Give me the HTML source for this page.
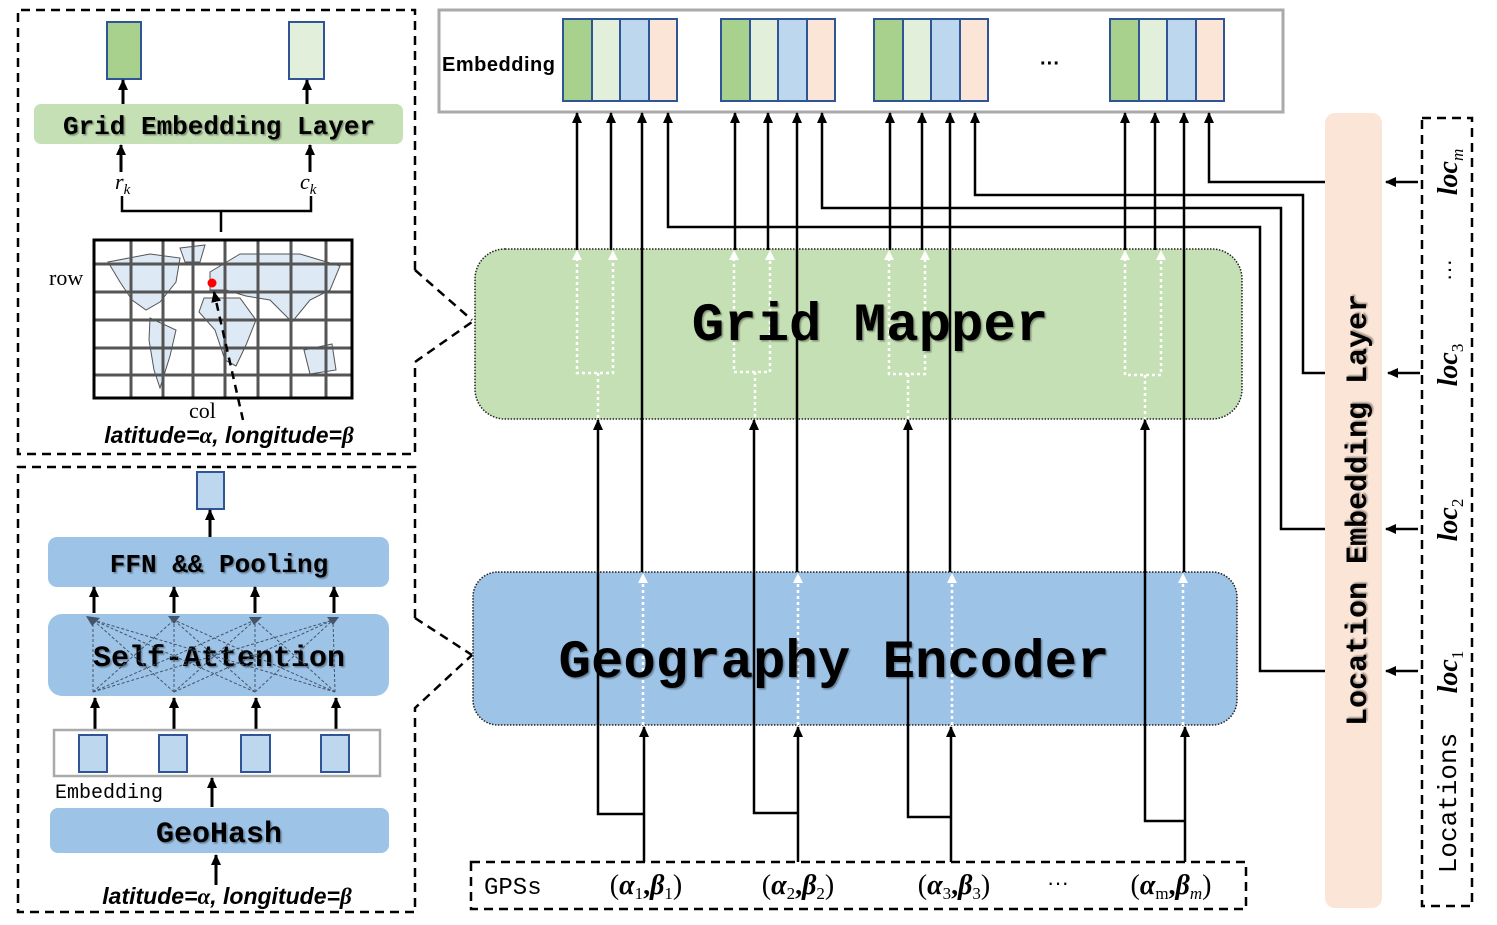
<!DOCTYPE html>
<html><head><meta charset="utf-8">
<style>
html,body{margin:0;padding:0;background:#fff;}
svg{display:block;}
.mono{font-family:"Liberation Mono","DejaVu Sans Mono",monospace;font-weight:bold;}
.serif{font-family:"Liberation Serif",serif;}
.sans{font-family:"Liberation Sans",sans-serif;}
</style></head>
<body>
<svg width="1497" height="925" viewBox="0 0 1497 925" xmlns="http://www.w3.org/2000/svg">
<defs>
<marker id="ah" markerWidth="11" markerHeight="10" refX="10" refY="5" orient="auto" markerUnits="userSpaceOnUse" viewBox="0 0 11 10">
<path d="M0,0 L11,5 L0,10 Z" fill="#000"/></marker>
<filter id="sh"><feDropShadow dx="1.5" dy="1.5" stdDeviation="0.8" flood-color="#000" flood-opacity="0.35"/></filter>
</defs>

<!-- ================= TOP LEFT PANEL ================= -->
<path d="M415,270 L415,10 L18,10 L18,454 L415,454 L415,362 L472,322" fill="none" stroke="#000" stroke-width="2.5" stroke-dasharray="9,6"/>
<path d="M415,270 L472,320" fill="none" stroke="#000" stroke-width="2.5" stroke-dasharray="9,6"/>
<rect x="107" y="22" width="34" height="57" fill="#a9d18e" stroke="#2f5597" stroke-width="2"/>
<rect x="289" y="22" width="35" height="57" fill="#e2efda" stroke="#2f5597" stroke-width="2"/>
<rect x="34" y="104" width="369" height="40" rx="7" fill="#c5e0b4"/>
<text x="219" y="134" class="mono" font-size="26" text-anchor="middle" filter="url(#sh)">Grid Embedding Layer</text>
<line x1="123" y1="104" x2="123" y2="80" stroke="#000" stroke-width="3" marker-end="url(#ah)"/>
<line x1="307" y1="104" x2="307" y2="80" stroke="#000" stroke-width="3" marker-end="url(#ah)"/>
<line x1="121" y1="172" x2="121" y2="145" stroke="#000" stroke-width="3" marker-end="url(#ah)"/>
<line x1="310" y1="172" x2="310" y2="145" stroke="#000" stroke-width="3" marker-end="url(#ah)"/>
<text x="115" y="189" class="serif" font-size="22" font-style="italic">r<tspan font-size="15" dy="5">k</tspan></text>
<text x="300" y="189" class="serif" font-size="22" font-style="italic">c<tspan font-size="15" dy="5">k</tspan></text>
<path d="M122,196 L122,211 L311,211 L311,196 M221,211 L221,232" fill="none" stroke="#000" stroke-width="2.5"/>
<!-- map -->
<rect x="94" y="240" width="258" height="158" fill="#fff"/>
<g fill="#dde9f5" stroke="#555" stroke-width="1">
<path d="M108,262 L150,254 L180,258 L176,282 L160,302 L146,310 L132,300 L120,282 Z"/>
<path d="M180,248 L205,245 L200,262 L185,262 Z"/>
<path d="M150,318 L176,330 L170,356 L160,388 L154,370 L149,340 Z"/>
<path d="M210,272 L240,254 L300,254 L340,266 L330,290 L310,300 L292,322 L270,300 L246,296 L226,290 L210,290 Z"/>
<path d="M204,298 L240,298 L256,320 L246,345 L236,366 L225,360 L215,330 L199,312 Z"/>
<path d="M304,350 L332,344 L336,370 L310,374 Z"/>
</g>
<g stroke="#555" stroke-width="3">
<line x1="131" y1="240" x2="131" y2="398"/><line x1="163" y1="240" x2="163" y2="398"/>
<line x1="193" y1="240" x2="193" y2="398"/><line x1="225" y1="240" x2="225" y2="398"/>
<line x1="258" y1="240" x2="258" y2="398"/><line x1="291" y1="240" x2="291" y2="398"/>
<line x1="326" y1="240" x2="326" y2="398"/>
<line x1="94" y1="264" x2="352" y2="264"/><line x1="94" y1="292" x2="352" y2="292"/>
<line x1="94" y1="320" x2="352" y2="320"/><line x1="94" y1="348" x2="352" y2="348"/>
<line x1="94" y1="375" x2="352" y2="375"/>
</g>
<rect x="94" y="240" width="258" height="158" fill="none" stroke="#000" stroke-width="3"/>
<circle cx="212" cy="283" r="4.5" fill="#f00"/>
<line x1="243" y1="420" x2="214" y2="292" stroke="#000" stroke-width="2.5" stroke-dasharray="8,6" marker-end="url(#ah)"/>
<text x="49" y="285" class="serif" font-size="22">row</text>
<text x="189" y="418" class="serif" font-size="22">col</text>
<text x="229" y="443" class="sans" font-size="23" font-weight="bold" font-style="italic" text-anchor="middle">latitude=<tspan class="serif">α</tspan>, longitude=<tspan class="serif">β</tspan></text>

<!-- ================= BOTTOM LEFT PANEL ================= -->
<path d="M415,618 L415,467 L18,467 L18,912 L415,912 L415,708 L472,655" fill="none" stroke="#000" stroke-width="2.5" stroke-dasharray="9,6"/>
<path d="M415,618 L472,655" fill="none" stroke="#000" stroke-width="2.5" stroke-dasharray="9,6"/>
<rect x="197" y="472" width="27" height="37" fill="#bdd7ee" stroke="#2f5597" stroke-width="2"/>
<line x1="210" y1="537" x2="210" y2="510" stroke="#000" stroke-width="3" marker-end="url(#ah)"/>
<rect x="48" y="537" width="341" height="50" rx="9" fill="#9dc3e6"/>
<text x="219" y="572" class="mono" font-size="26" text-anchor="middle" filter="url(#sh)">FFN &amp;&amp; Pooling</text>
<rect x="48" y="614" width="341" height="82" rx="14" fill="#9dc3e6"/>
<text x="219" y="666" class="mono" font-size="30" text-anchor="middle" filter="url(#sh)">Self-Attention</text>
<g stroke="#44546a" stroke-width="1" stroke-dasharray="3,2" fill="none">
<path d="M93,692 L93,620 M93,692 L174,620 M93,692 L255,620 M93,692 L333,620"/>
<path d="M174,692 L93,620 M174,692 L174,620 M174,692 L255,620 M174,692 L333,620"/>
<path d="M255,692 L93,620 M255,692 L174,620 M255,692 L255,620 M255,692 L333,620"/>
<path d="M335,692 L93,620 M335,692 L174,620 M335,692 L255,620 M335,692 L333,620"/>
</g>
<g fill="#44546a"><path d="M86,616 L100,618 L92,626Z"/><path d="M168,616 L180,616 L174,624Z"/><path d="M249,617 L262,617 L254,625Z"/><path d="M327,617 L339,617 L333,625Z"/></g>
<g stroke="#000" stroke-width="3">
<line x1="94" y1="613" x2="94" y2="587" marker-end="url(#ah)"/>
<line x1="174" y1="613" x2="174" y2="587" marker-end="url(#ah)"/>
<line x1="255" y1="613" x2="255" y2="587" marker-end="url(#ah)"/>
<line x1="334" y1="613" x2="334" y2="587" marker-end="url(#ah)"/>
<line x1="95" y1="729" x2="95" y2="698" marker-end="url(#ah)"/>
<line x1="174" y1="729" x2="174" y2="698" marker-end="url(#ah)"/>
<line x1="256" y1="729" x2="256" y2="698" marker-end="url(#ah)"/>
<line x1="336" y1="729" x2="336" y2="698" marker-end="url(#ah)"/>
<line x1="212" y1="807" x2="212" y2="778" marker-end="url(#ah)"/>
<line x1="216" y1="885" x2="216" y2="855" marker-end="url(#ah)"/>
</g>
<rect x="54" y="730" width="326" height="46" fill="#fff" stroke="#aaa" stroke-width="2.5"/>
<g fill="#bdd7ee" stroke="#2f5597" stroke-width="2">
<rect x="79" y="735" width="28" height="37"/><rect x="159" y="735" width="28" height="37"/>
<rect x="241" y="735" width="29" height="37"/><rect x="321" y="735" width="28" height="37"/>
</g>
<text x="55" y="798" class="mono" font-size="20" style="font-weight:normal">Embedding</text>
<rect x="50" y="808" width="339" height="45" rx="8" fill="#9dc3e6"/>
<text x="219" y="842" class="mono" font-size="30" text-anchor="middle" filter="url(#sh)">GeoHash</text>
<text x="227" y="904" class="sans" font-size="23" font-weight="bold" font-style="italic" text-anchor="middle">latitude=<tspan class="serif">α</tspan>, longitude=<tspan class="serif">β</tspan></text>

<!-- ================= TOP EMBEDDING ================= -->
<rect x="439" y="10" width="844" height="102" fill="#fff" stroke="#aaa" stroke-width="3"/>
<text x="442" y="71" class="sans" font-size="20" font-weight="bold" textLength="113">Embedding</text>
<g stroke="#2f5597" stroke-width="2">
<g transform="translate(563,19)"><rect width="29" height="82" fill="#a9d18e"/><rect x="29" width="28" height="82" fill="#e2efda"/><rect x="57" width="29" height="82" fill="#bdd7ee"/><rect x="86" width="28" height="82" fill="#fbe5d6"/></g>
<g transform="translate(721,19)"><rect width="29" height="82" fill="#a9d18e"/><rect x="29" width="28" height="82" fill="#e2efda"/><rect x="57" width="29" height="82" fill="#bdd7ee"/><rect x="86" width="28" height="82" fill="#fbe5d6"/></g>
<g transform="translate(874,19)"><rect width="29" height="82" fill="#a9d18e"/><rect x="29" width="28" height="82" fill="#e2efda"/><rect x="57" width="29" height="82" fill="#bdd7ee"/><rect x="86" width="28" height="82" fill="#fbe5d6"/></g>
<g transform="translate(1110,19)"><rect width="29" height="82" fill="#a9d18e"/><rect x="29" width="28" height="82" fill="#e2efda"/><rect x="57" width="29" height="82" fill="#bdd7ee"/><rect x="86" width="28" height="82" fill="#fbe5d6"/></g>
</g>
<text x="1050" y="70" class="sans" font-size="20" font-weight="bold" text-anchor="middle">···</text>

<!-- ================= GRID MAPPER ================= -->
<rect x="475" y="249" width="767" height="170" rx="30" fill="#c5e0b4" stroke="#222" stroke-width="1.5" stroke-dasharray="1.5,1.5"/>
<g stroke="#fff" stroke-width="2.5" stroke-dasharray="3,3" fill="none">
<path d="M577,258 L577,373 L613,373 L613,258 M598,373 L598,419"/>
<path d="M734,258 L734,372 L770,372 L770,258 M755,372 L755,419"/>
<path d="M889,258 L889,374 L925,374 L925,258 M908,374 L908,419"/>
<path d="M1125,258 L1125,375 L1161,375 L1161,258 M1145,375 L1145,419"/>
</g>
<g fill="#fff">
<path d="M572,260 L577,250 L582,260Z"/><path d="M608,260 L613,250 L618,260Z"/>
<path d="M729,260 L734,250 L739,260Z"/><path d="M765,260 L770,250 L775,260Z"/>
<path d="M884,260 L889,250 L894,260Z"/><path d="M920,260 L925,250 L930,260Z"/>
<path d="M1120,260 L1125,250 L1130,260Z"/><path d="M1156,260 L1161,250 L1166,260Z"/>
</g>
<text x="870" y="340" class="mono" font-size="54" text-anchor="middle" filter="url(#sh)">Grid Mapper</text>

<!-- ================= GEOGRAPHY ENCODER ================= -->
<rect x="473" y="572" width="764" height="153" rx="25" fill="#9dc3e6" stroke="#222" stroke-width="1.5" stroke-dasharray="1.5,1.5"/>
<g stroke="#fff" stroke-width="2.5" stroke-dasharray="3,3">
<line x1="643" y1="725" x2="643" y2="582"/><line x1="798" y1="725" x2="798" y2="582"/>
<line x1="952" y1="725" x2="952" y2="582"/><line x1="1183" y1="725" x2="1183" y2="582"/>
</g>
<g fill="#fff">
<path d="M638,583 L643,573 L648,583Z"/><path d="M793,583 L798,573 L803,583Z"/>
<path d="M947,583 L952,573 L957,583Z"/><path d="M1178,583 L1183,573 L1188,583Z"/>
</g>
<text x="834" y="677" class="mono" font-size="54" text-anchor="middle" filter="url(#sh)">Geography Encoder</text>

<!-- ================= CONNECTORS ================= -->
<g stroke="#000" stroke-width="2.5" fill="none">
<line x1="577" y1="250" x2="577" y2="113" marker-end="url(#ah)"/>
<line x1="611" y1="250" x2="611" y2="113" marker-end="url(#ah)"/>
<line x1="735" y1="250" x2="735" y2="113" marker-end="url(#ah)"/>
<line x1="768" y1="250" x2="768" y2="113" marker-end="url(#ah)"/>
<line x1="890" y1="250" x2="890" y2="113" marker-end="url(#ah)"/>
<line x1="922" y1="250" x2="922" y2="113" marker-end="url(#ah)"/>
<line x1="1125" y1="250" x2="1125" y2="113" marker-end="url(#ah)"/>
<line x1="1155" y1="250" x2="1155" y2="113" marker-end="url(#ah)"/>
<line x1="642" y1="572" x2="642" y2="113" marker-end="url(#ah)"/>
<line x1="797" y1="572" x2="797" y2="113" marker-end="url(#ah)"/>
<line x1="950" y1="572" x2="950" y2="113" marker-end="url(#ah)"/>
<line x1="1184" y1="572" x2="1184" y2="113" marker-end="url(#ah)"/>
<path d="M1325,182 L1209,182 L1209,113" marker-end="url(#ah)"/>
<path d="M1325,373 L1303,373 L1303,195 L975,195 L975,113" marker-end="url(#ah)"/>
<path d="M1325,529 L1281,529 L1281,208 L822,208 L822,113" marker-end="url(#ah)"/>
<path d="M1325,671 L1260,671 L1260,227 L668,227 L668,113" marker-end="url(#ah)"/>
<line x1="644" y1="862" x2="644" y2="727" marker-end="url(#ah)"/>
<line x1="798" y1="862" x2="798" y2="727" marker-end="url(#ah)"/>
<line x1="951" y1="862" x2="951" y2="727" marker-end="url(#ah)"/>
<line x1="1185" y1="862" x2="1185" y2="727" marker-end="url(#ah)"/>
<path d="M644,814 L598,814 L598,420" marker-end="url(#ah)"/>
<path d="M798,813 L754,813 L754,420" marker-end="url(#ah)"/>
<path d="M951,817 L908,817 L908,420" marker-end="url(#ah)"/>
<path d="M1185,821 L1145,821 L1145,420" marker-end="url(#ah)"/>
<line x1="1418" y1="182" x2="1386" y2="182" marker-end="url(#ah)"/>
<line x1="1420" y1="373" x2="1388" y2="373" marker-end="url(#ah)"/>
<line x1="1418" y1="529" x2="1386" y2="529" marker-end="url(#ah)"/>
<line x1="1418" y1="671" x2="1386" y2="671" marker-end="url(#ah)"/>
</g>

<!-- ================= GPS BOX ================= -->
<rect x="471" y="862" width="775" height="47" fill="none" stroke="#000" stroke-width="2.5" stroke-dasharray="9,6"/>
<text x="484" y="894" class="mono" font-size="24" style="font-weight:normal">GPSs</text>
<g class="serif" font-size="28" font-weight="bold" font-style="italic" text-anchor="middle">
<text x="646" y="894"><tspan font-style="normal" font-weight="normal">(</tspan>α<tspan font-size="17" font-style="normal" font-weight="normal" dy="5">1</tspan><tspan dy="-5" font-style="normal">,</tspan>β<tspan font-size="17" font-style="normal" font-weight="normal" dy="5">1</tspan><tspan dy="-5" font-style="normal" font-weight="normal">)</tspan></text>
<text x="798" y="894"><tspan font-style="normal" font-weight="normal">(</tspan>α<tspan font-size="17" font-style="normal" font-weight="normal" dy="5">2</tspan><tspan dy="-5" font-style="normal">,</tspan>β<tspan font-size="17" font-style="normal" font-weight="normal" dy="5">2</tspan><tspan dy="-5" font-style="normal" font-weight="normal">)</tspan></text>
<text x="954" y="894"><tspan font-style="normal" font-weight="normal">(</tspan>α<tspan font-size="17" font-style="normal" font-weight="normal" dy="5">3</tspan><tspan dy="-5" font-style="normal">,</tspan>β<tspan font-size="17" font-style="normal" font-weight="normal" dy="5">3</tspan><tspan dy="-5" font-style="normal" font-weight="normal">)</tspan></text>
<text x="1171" y="894"><tspan font-style="normal" font-weight="normal">(</tspan>α<tspan font-size="17" font-style="normal" font-weight="normal" dy="5">m</tspan><tspan dy="-5" font-style="normal">,</tspan>β<tspan font-size="17" font-weight="normal" dy="5">m</tspan><tspan dy="-5" font-style="normal" font-weight="normal">)</tspan></text>
</g>
<text x="1058" y="890" class="sans" font-size="22" text-anchor="middle">···</text>

<!-- ================= LOCATION EMBEDDING LAYER ================= -->
<rect x="1325" y="113" width="57" height="795" rx="10" fill="#fbe5d6"/>
<text transform="translate(1366,510) rotate(-90)" class="mono" font-size="30" text-anchor="middle" filter="url(#sh)">Location Embedding Layer</text>

<!-- ================= LOCATIONS ================= -->
<rect x="1422" y="118" width="50" height="788" fill="none" stroke="#000" stroke-width="2.5" stroke-dasharray="9,6"/>
<text transform="translate(1456,803) rotate(-90)" class="mono" font-size="26" text-anchor="middle" style="font-weight:normal">Locations</text>
<g class="serif" font-size="28" font-weight="bold" font-style="italic" text-anchor="middle">
<text transform="translate(1457,672) rotate(-90)">loc<tspan font-size="17" font-style="normal" font-weight="normal" dy="6">1</tspan></text>
<text transform="translate(1457,520) rotate(-90)">loc<tspan font-size="17" font-style="normal" font-weight="normal" dy="6">2</tspan></text>
<text transform="translate(1457,365) rotate(-90)">loc<tspan font-size="17" font-style="normal" font-weight="normal" dy="6">3</tspan></text>
<text transform="translate(1457,172) rotate(-90)">loc<tspan font-size="17" font-weight="normal" dy="6">m</tspan></text>
</g>
<text transform="translate(1456,270) rotate(-90)" class="sans" font-size="22" text-anchor="middle">···</text>
</svg>
</body></html>
